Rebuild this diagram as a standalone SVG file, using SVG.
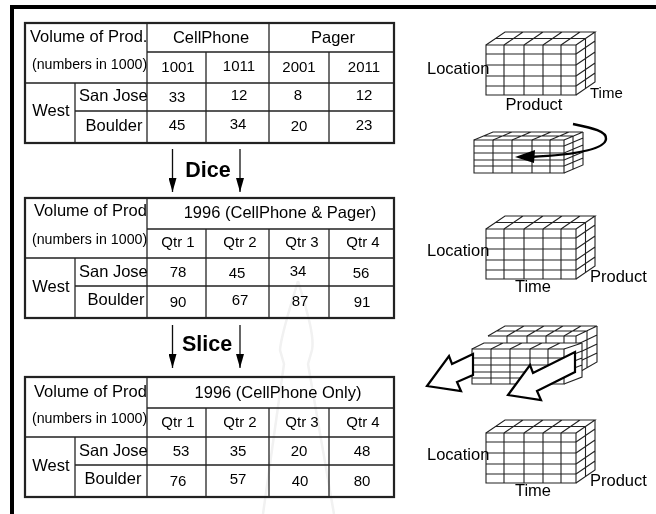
<svg xmlns="http://www.w3.org/2000/svg" width="656" height="514" viewBox="0 0 656 514">
<style>
text{font-family:"Liberation Sans",Arial,sans-serif;font-size:16.500px;fill:#000}
.m{text-anchor:middle}
.n{font-size:15px}
.s{font-size:14.200px}
.b{font-size:21.500px;font-weight:bold}
.o{fill:none;stroke:#222;stroke-width:2.200}
.g{fill:none;stroke:#222;stroke-width:1.300}
.c{fill:none;stroke:#222;stroke-width:1.100}
.cf{fill:#fff;stroke:none}
.w{fill:#fff;stroke:#000;stroke-width:2.200;stroke-linejoin:miter}
.wm{fill:none;stroke:#f1f1f1;stroke-width:2.500}
.l{fill:none;stroke:#111;stroke-width:1.300;marker-end:url(#ad)}
</style>
<defs>
<filter id="soft" filterUnits="userSpaceOnUse" x="0" y="0" width="656" height="514"><feGaussianBlur stdDeviation="0.450"/></filter>
<marker id="ad" markerUnits="userSpaceOnUse" markerWidth="8" markerHeight="14" refX="4" refY="14" viewBox="0 0 8 14"><path d="M0 0H8L4 14Z" fill="#000"/></marker>
<g id="cubeA">
<path class="cf" d="M0 0L19-13H109V37L90 50H0Z"/>
<path class="c" d="M0 0H90V50H0ZM18 0V50M38 0V50M57 0V50M75 0V50M0 9H90M0 20H90M0 31H90M0 41H90"/>
<path class="c" d="M0 0L19-13H109L90 0M18 0L37-13M38 0L57-13M57 0L76-13M75 0L94-13M9.500-6.500H99.500"/>
<path class="c" d="M109-13V37L90 50M99.500-6.500V43.500M90 9L109-4M90 20L109 7M90 31L109 18M90 41L109 28"/>
</g>
</defs>
<rect width="656" height="514" fill="#fff"/>
<g filter="url(#soft)">
<path d="M12 514V7H656" fill="none" stroke="#000" stroke-width="4"/>
<g id="watermark"><path class="wm" d="M298 281C291 305 281 335 280 350L284 364L263 514M298 281C305 305 315 335 312 350L308 364L334 514"/></g>
<g id="table-1">
<rect class="o" x="25" y="23" width="369" height="120"/>
<path class="g" d="M147 23V143M206 52V143M269 23V143M329 52V143M147 52H394M25 83H394M75 83V143M75 111H394"/>
<text x="30" y="42">Volume of Prod.</text>
<text x="32" y="69" class="s">(numbers in 1000)</text>
<text x="211" y="43" class="m">CellPhone</text><text x="333" y="43" class="m">Pager</text>
<text x="178" y="72" class="m n">1001</text><text x="239" y="71" class="m n">1011</text><text x="299" y="72" class="m n">2001</text><text x="364" y="72" class="m n">2011</text>
<text x="79" y="101">San Jose</text><text x="51" y="116" class="m">West</text><text x="114" y="131" class="m">Boulder</text>
<text x="177" y="102" class="m n">33</text><text x="239" y="100" class="m n">12</text><text x="298" y="100" class="m n">8</text><text x="364" y="100" class="m n">12</text>
<text x="177" y="130" class="m n">45</text><text x="238" y="129" class="m n">34</text><text x="299" y="131" class="m n">20</text><text x="364" y="130" class="m n">23</text>
</g>
<g id="table-2">
<rect class="o" x="25" y="198" width="369" height="120"/>
<path class="g" d="M147 198V318M206 229V318M269 229V318M329 229V318M147 229H394M25 258H394M75 258V318M75 286H394"/>
<text x="34" y="216">Volume of Prod</text>
<text x="32" y="244" class="s">(numbers in 1000)</text>
<text x="280" y="218" class="m">1996 (CellPhone &amp; Pager)</text>
<text x="178" y="247" class="m n">Qtr 1</text><text x="240" y="247" class="m n">Qtr 2</text><text x="302" y="247" class="m n">Qtr 3</text><text x="363" y="247" class="m n">Qtr 4</text>
<text x="79" y="277">San Jose</text><text x="51" y="292" class="m">West</text><text x="116" y="305" class="m">Boulder</text>
<text x="178" y="277" class="m n">78</text><text x="237" y="278" class="m n">45</text><text x="298" y="276" class="m n">34</text><text x="361" y="278" class="m n">56</text>
<text x="178" y="307" class="m n">90</text><text x="240" y="305" class="m n">67</text><text x="300" y="306" class="m n">87</text><text x="362" y="307" class="m n">91</text>
</g>
<g id="table-3">
<rect class="o" x="25" y="377" width="369" height="120"/>
<path class="g" d="M147 377V497M206 408V497M269 408V497M329 408V497M147 408H394M25 437H394M75 437V497M75 465H394"/>
<text x="34" y="397">Volume of Prod</text>
<text x="32" y="423" class="s">(numbers in 1000)</text>
<text x="278" y="398" class="m">1996 (CellPhone Only)</text>
<text x="178" y="427" class="m n">Qtr 1</text><text x="240" y="427" class="m n">Qtr 2</text><text x="302" y="427" class="m n">Qtr 3</text><text x="363" y="427" class="m n">Qtr 4</text>
<text x="79" y="456">San Jose</text><text x="51" y="471" class="m">West</text><text x="113" y="484" class="m">Boulder</text>
<text x="181" y="456" class="m n">53</text><text x="238" y="456" class="m n">35</text><text x="299" y="456" class="m n">20</text><text x="362" y="456" class="m n">48</text>
<text x="178" y="486" class="m n">76</text><text x="238" y="484" class="m n">57</text><text x="300" y="486" class="m n">40</text><text x="362" y="486" class="m n">80</text>
</g>
<g id="connectors">
<path class="l" d="M172.500 149V192"/>
<path class="l" d="M240 149V192"/>
<path class="l" d="M172.500 325V368"/>
<path class="l" d="M240 325V368"/>
</g>
<text x="208" y="177" class="m b">Dice</text>
<text x="207" y="351" class="m b">Slice</text>
<g id="cube-1">
<use href="#cubeA" x="486" y="45"/>
<text x="427" y="74">Location</text><text x="534" y="110" class="m">Product</text><text x="590" y="98" class="n">Time</text>
</g>
<g id="cube-rotate">
<path class="cf" d="M474 140L493 132H583V165L564 173H474Z"/>
<path class="c" d="M474 140H564V173H474ZM493 140V173M512 140V173M532 140V173M550 140V173M474 146H564M474 153H564M474 160H564M474 166H564"/>
<path class="c" d="M474 140L493 132H583L564 140M493 140L512 132M512 140L531 132M532 140L551 132M550 140L569 132M483 136H573"/>
<path class="c" d="M583 132V165L564 173M573 136V169M564 146L583 138M564 153L583 145M564 160L583 152M564 166L583 158"/>
<path d="M573 124C592 128 607 131 606 139C605 150 570 155 530 157" fill="none" stroke="#000" stroke-width="2.500"/>
<path d="M515 157L535 150L534 163Z" fill="#000"/>
</g>
<g id="cube-2">
<use href="#cubeA" x="486" y="229"/>
<text x="427" y="256">Location</text><text x="533" y="292" class="m">Time</text><text x="590" y="282">Product</text>
</g>
<g id="cube-slice">
<path class="cf" d="M488 336L505 326H597V362L576 374H488Z"/>
<path class="c" d="M488 336H576V374M507 336V349M527 336V349M546 336V349M564 336V349M488 344H576"/>
<path class="c" d="M488 336L505 326H597L576 336M507 336L524 326M527 336L544 326M546 336L563 326M564 336L581 326M496 331H587"/>
<path class="c" d="M597 326V362L576 374M587 331V368M576 345L597 335M576 354L597 344M576 363L597 353"/>
<path class="cf" d="M472 349L484 343H582V377L564 384H472Z"/>
<path class="c" d="M472 349H564V384H472ZM491 349V384M510 349V384M530 349V384M548 349V384M472 358H564M472 365H564M472 372H564M472 378H564"/>
<path class="c" d="M472 349L484 343H582L564 349M491 349L503 343M510 349L522 343M530 349L542 343M548 349L560 343"/>
<path class="c" d="M582 343V377L564 384M564 358L582 351M564 365L582 358M564 372L582 365"/>
<path class="w" d="M427 386L449 356L452 364L473 354V375L457 382L461 391Z"/>
<path class="w" d="M508 395L530 365L533 373L575 352V372L537 391L541 400Z"/>
</g>
<g id="cube-3">
<use href="#cubeA" x="486" y="433"/>
<text x="427" y="460">Location</text><text x="533" y="496" class="m">Time</text><text x="590" y="486">Product</text>
</g>
</g>
</svg>
